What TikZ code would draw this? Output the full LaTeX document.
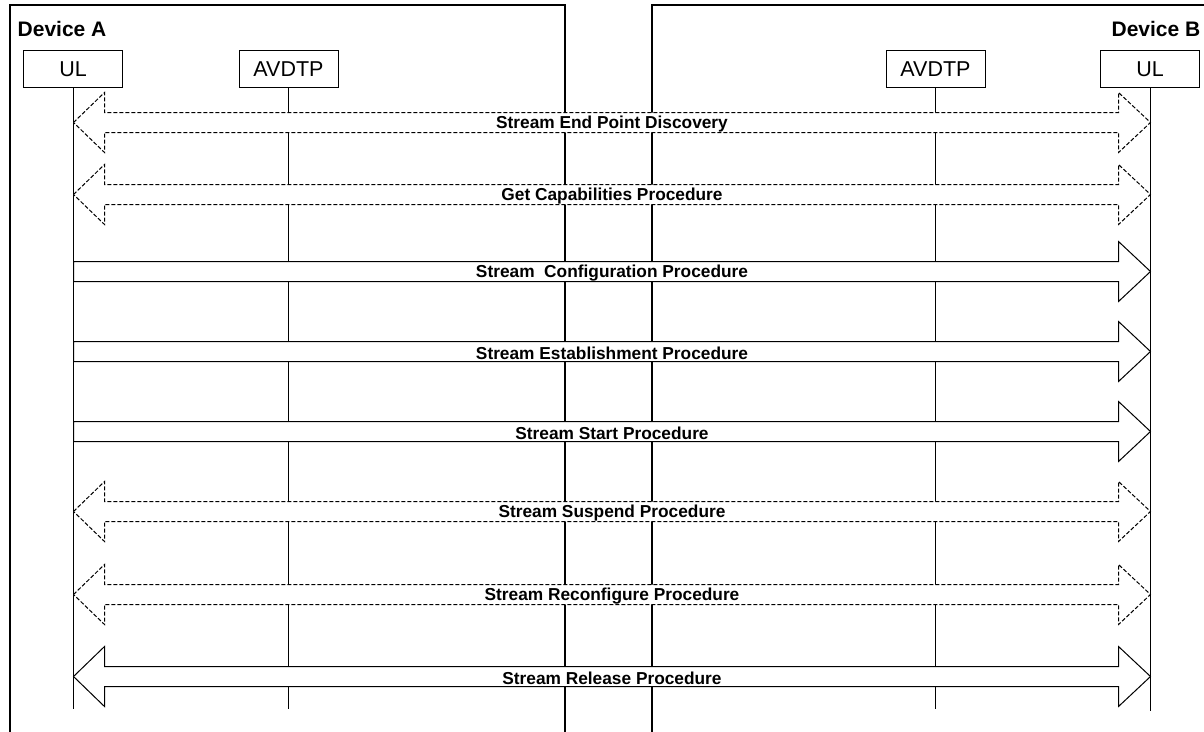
\documentclass[tikz,border=0pt]{standalone}
\usepackage{fontspec}
\setmainfont{Liberation Sans}
\begin{document}
\begin{tikzpicture}[x=1pt,y=-1pt,
  devline/.style={line width=2pt,line cap=rect},
  entity/.style={draw,line width=1pt,minimum width=99pt,minimum height=37pt,inner sep=0pt,font=\fontsize{21.5}{24}\selectfont},
  devlbl/.style={inner sep=0pt,font=\bfseries\fontsize{21}{24}\selectfont},
  lifeline/.style={line width=1pt},
  solidarrow/.style={draw,fill=white,line width=1pt,line join=miter},
  dasharrow/.style={draw,fill=white,line width=1pt,dash pattern=on 4pt off 2pt},
  lbl/.style={inner sep=0pt,yshift=-1.5pt,font=\bfseries\fontsize{17.3}{20}\selectfont}]
\useasboundingbox (0,0) rectangle (1204,731);
\begin{scope}[xshift=0.5pt,yshift=-0.5pt]
% device frames
\draw[devline] (9.5,735) -- (9.5,4.5) -- (564.5,4.5) -- (564.5,735);
\draw[devline] (651.5,735) -- (651.5,4.5) -- (1210,4.5);
\node[devlbl,anchor=west] (devA) at (17,28) {Device A};
\node[devlbl,anchor=east] (devB) at (1200,28) {Device B};
% entities
\node[entity] (ulA) at (72.5,68.5) {UL};
\node[entity] (avA) at (288,68.5) {AVDTP};
\node[entity] (avB) at (935,68.5) {AVDTP};
\node[entity] (ulB) at (1149.5,68.5) {UL};
\coordinate (ulAend) at (73,708);
\coordinate (avAend) at (288,708);
\coordinate (avBend) at (935,708);
\coordinate (ulBend) at (1150,710);
\draw[lifeline] (ulA.south -| ulAend) -- (ulAend);
\draw[lifeline] (avA.south) -- (avAend);
\draw[lifeline] (avB.south) -- (avBend);
\draw[lifeline] (ulB.south -| ulBend) -- (ulBend);
% block arrows
\newcommand{\dblarrow}[4]{%
  \path[#3] (73,#2) -- (104,#2-30) -- (104,#2-10) -- (1118,#2-10) -- (1118,#2-30) -- (1150,#2)
    -- (1118,#2+30) -- (1118,#2+10) -- (104,#2+10) -- (104,#2+30) -- cycle;
  \node[lbl] (#1) at (611.5,#2) {#4};}
\newcommand{\rtarrow}[3]{%
  \path[solidarrow] (73,#2-10) -- (1118,#2-10) -- (1118,#2-30) -- (1150,#2)
    -- (1118,#2+30) -- (1118,#2+10) -- (73,#2+10) -- cycle;
  \node[lbl] (#1) at (611.5,#2) {#3};}
\dblarrow{sepd}{122}{dasharrow}{Stream End Point Discovery}
\dblarrow{gcap}{194}{dasharrow}{Get Capabilities Procedure}
\rtarrow{conf}{271}{Stream\ \ Configuration Procedure}
\rtarrow{estb}{351}{Stream Establishment Procedure}
\rtarrow{strt}{431}{Stream Start Procedure}
\dblarrow{susp}{511}{dasharrow}{Stream Suspend Procedure}
\dblarrow{reco}{594}{dasharrow}{Stream Reconfigure Procedure}
\dblarrow{rels}{676}{solidarrow}{Stream Release Procedure}
\end{scope}
\end{tikzpicture}
\end{document}
